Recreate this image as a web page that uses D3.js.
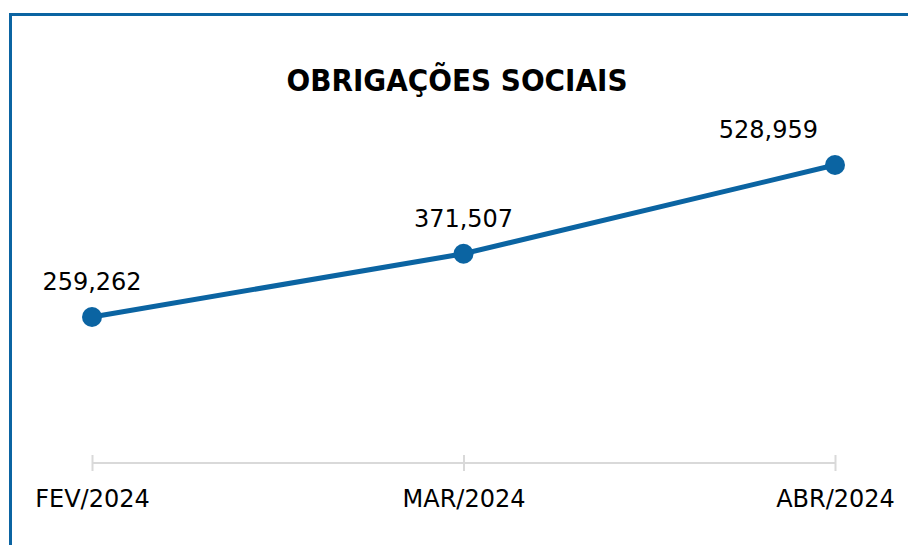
<!DOCTYPE html>
<html>
<head>
<meta charset="utf-8">
<script src="https://cdn.jsdelivr.net/npm/d3@7"></script>
<style>
  html, body { margin: 0; padding: 0; background: #fff; }
  svg { display: block; }
</style>
</head>
<body>
<svg class="chart" width="908" height="545"></svg>
<script>
const months = ['FEV/2024', 'MAR/2024', 'ABR/2024']
const values = [259262, 371507, 528959]
const title = 'OBRIGAÇÕES SOCIAIS'

const data = months.map((m, i) => ({ month: m, value: values[i] }))

const svg = d3.select('.chart')
const blue = '#0B64A2'
const font = 'DejaVu Sans, sans-serif'

// frame (only top and left edge visible in the shot)
svg.append('rect')
  .attr('x', 10.5)
  .attr('y', 14.5)
  .attr('width', 1000)
  .attr('height', 1000)
  .attr('fill', '#fff')
  .attr('stroke', blue)
  .attr('stroke-width', 3)

let x = d3.scalePoint()
  .domain(months)
  .range([92, 835])

let y = d3.scaleLinear()
  .domain([0, 600000])
  .range([463, 125])

svg.append('text')
  .attr('x', 457)
  .attr('y', 91)
  .attr('text-anchor', 'middle')
  .attr('font-family', font)
  .attr('font-weight', 'bold')
  .attr('font-size', 30)
  .attr('textLength', 341)
  .attr('lengthAdjust', 'spacingAndGlyphs')
  .attr('fill', '#000')
  .text(title)

const axis = svg.append('g')
  .attr('transform', 'translate(0,463)')
  .call(d3.axisBottom(x).tickSizeInner(0).tickSizeOuter(0).tickPadding(0))
axis.select('.domain')
  .attr('d', 'M' + x(months[0]) + ',0H' + x(months[months.length - 1]))
  .attr('stroke', '#D9D9D9')
  .attr('stroke-width', 2)
axis.selectAll('.tick line')
  .attr('y1', -8)
  .attr('y2', 8)
  .attr('stroke', '#D9D9D9')
  .attr('stroke-width', 2)
axis.selectAll('.tick text')
  .attr('y', 44)
  .attr('dy', 0)
  .attr('font-family', font)
  .attr('font-size', 24)
  .attr('fill', '#000')

let line = d3.line()
  .x(d => x(d.month))
  .y(d => y(d.value))

svg.append('path')
  .datum(data)
  .attr('fill', 'none')
  .attr('stroke', blue)
  .attr('stroke-width', 5)
  .attr('stroke-linejoin', 'round')
  .attr('d', line)

svg.selectAll('circle.pt')
  .data(data)
  .join('circle')
  .attr('class', 'pt')
  .attr('cx', d => x(d.month))
  .attr('cy', d => y(d.value))
  .attr('r', 10)
  .attr('fill', blue)

const fmt = d3.format(',')
const labels = svg.selectAll('text.lbl')
  .data(data)
  .join('text')
  .attr('class', 'lbl')
  .attr('x', d => x(d.month))
  .attr('y', d => y(d.value) - 27)
  .attr('text-anchor', 'middle')
  .attr('font-family', font)
  .attr('font-size', 24)
  .attr('fill', '#000')
  .text(d => fmt(d.value))

// keep labels inside the plot area on the right
labels.each(function () {
  const bb = this.getBBox()
  const over = bb.x + bb.width - 818
  if (over > 0) d3.select(this).attr('x', +d3.select(this).attr('x') - over)
})
</script>
</body>
</html>
